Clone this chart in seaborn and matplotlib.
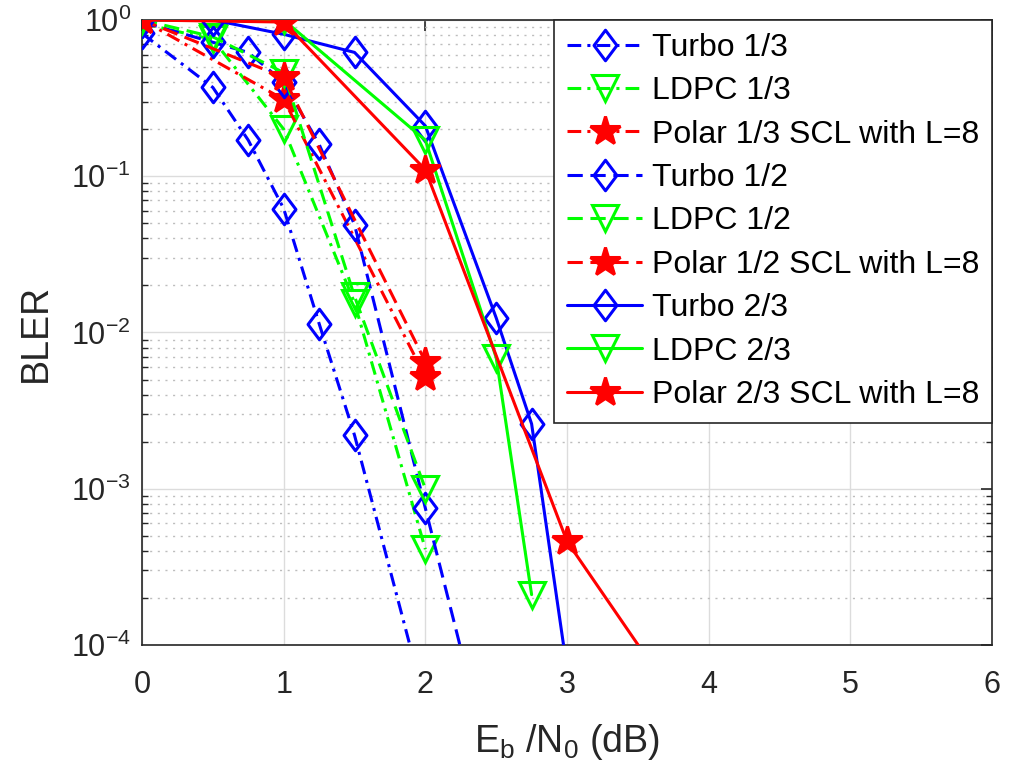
import numpy as np
import pandas as pd
import matplotlib
matplotlib.use("Agg")
import matplotlib.pyplot as plt
from matplotlib.path import Path
import seaborn as sns

# ---- data ----
x_turbo13 = [0, 0.5, 0.75, 1.0, 1.25, 1.5, 2.0]
y_turbo13 = [0.82, 0.37, 0.17, 0.062, 0.0114, 0.0022, 4.2e-5]

x_ldpc13 = [0, 0.5, 1.0, 1.5, 2.0]
y_ldpc13 = [0.95, 0.75, 0.20, 0.0155, 4.1e-4]

x_polar13 = [0, 1.0, 2.0]
y_polar13 = [1.0, 0.31, 5.2e-3]

x_turbo12 = [0, 0.5, 0.75, 1.0, 1.25, 1.5, 2.0, 2.5]
y_turbo12 = [0.97, 0.72, 0.62, 0.40, 0.16, 0.049, 7.5e-4, 1.2e-5]

x_ldpc12 = [0, 0.5, 1.0, 1.5, 2.0]
y_ldpc12 = [1.0, 0.78, 0.46, 0.017, 1.0e-3]

x_polar12 = [0, 1.0, 2.0]
y_polar12 = [1.0, 0.43, 6.5e-3]

x_turbo23 = [0, 0.5, 1.0, 1.5, 2.0, 2.5, 2.75, 3.0]
y_turbo23 = [1.0, 1.0, 0.81, 0.62, 0.21, 0.0124, 0.0026, 7e-5]

x_ldpc23 = [0, 1.0, 2.0, 2.5, 2.75]
y_ldpc23 = [1.0, 1.0, 0.17, 6.9e-3, 2.1e-4]

x_polar23 = [0, 1.0, 2.0, 3.0, 4.0]
y_polar23 = [1.0, 0.97, 0.11, 4.6e-4, 2.2e-5]

labels = ["Turbo 1/3", "LDPC 1/3", "Polar 1/3 SCL with L=8",
          "Turbo 1/2", "LDPC 1/2", "Polar 1/2 SCL with L=8",
          "Turbo 2/3", "LDPC 2/3", "Polar 2/3 SCL with L=8"]
xticks = [0, 1, 2, 3, 4, 5, 6]

series = [
    (x_turbo13, y_turbo13), (x_ldpc13, y_ldpc13), (x_polar13, y_polar13),
    (x_turbo12, y_turbo12), (x_ldpc12, y_ldpc12), (x_polar12, y_polar12),
    (x_turbo23, y_turbo23), (x_ldpc23, y_ldpc23), (x_polar23, y_polar23),
]

# ---- style ----
sns.set_style("white")
plt.rcParams['font.family'] = ['Liberation Sans', 'DejaVu Sans']
plt.rcParams['mathtext.fontset'] = 'custom'
plt.rcParams['mathtext.rm'] = 'Liberation Sans'
plt.rcParams['mathtext.it'] = 'Liberation Sans'
plt.rcParams['mathtext.default'] = 'regular'

diamond = Path([(0, 1), (0.75, 0), (0, -1), (-0.75, 0), (0, 1)],
               [Path.MOVETO, Path.LINETO, Path.LINETO, Path.LINETO, Path.CLOSEPOLY])

colors = ["#0000ff", "#00ff00", "#ff0000"]
markers = [diamond, "v", "*"]
msizes = [22, 19, 22]
faces = ["none", "none", "#ff0000"]
styles = [(0, (4.5, 2, 1, 2)), (0, (5, 2.5)), "-"]

fig = plt.figure(figsize=(10.13, 7.74), dpi=100)
ax = fig.add_axes([0.1402, 0.1667, 0.8391, 0.8075])

for i, ((xs, ys), lab) in enumerate(zip(series, labels)):
    r = i // 3
    c = i % 3
    df = pd.DataFrame({"x": xs, "y": ys})
    sns.lineplot(data=df, x="x", y="y", ax=ax, sort=False, estimator=None,
                 color=colors[c], linestyle=styles[r], linewidth=2.2,
                 marker=markers[c], markersize=msizes[c],
                 markerfacecolor=faces[c], markeredgecolor=colors[c],
                 markeredgewidth=2.2, label=lab, zorder=3)

ax.set_yscale("log")
ax.set_xlim(0, 6)
ax.set_ylim(1e-4, 1)
ax.set_xticks(xticks)
ax.set_xticklabels([str(t) for t in xticks])

ax.grid(True, which="major", color="#dcdcdc", linewidth=1.0, linestyle="-", zorder=0)
ax.grid(True, which="minor", axis="y", color="#bdbdbd", linewidth=1.0,
        linestyle=(0, (1.5, 4)), zorder=0)
ax.set_axisbelow(True)

for sp in ax.spines.values():
    sp.set_color("#262626")
    sp.set_linewidth(1.2)

ax.tick_params(axis="both", which="major", direction="in", length=8, width=1.2,
               colors="#262626", labelsize=22, top=True, right=True)
ax.tick_params(axis="x", which="major", pad=18)
ax.tick_params(axis="y", which="major", pad=8)
ax.tick_params(axis="y", which="minor", direction="in", length=4, width=1.0,
               colors="#262626", left=True, right=True)

ax.set_xlabel(r"E$_\mathregular{b}$ /N$_\mathregular{0}$ (dB)", fontsize=27,
              color="#262626", labelpad=16)
ax.set_ylabel("BLER", fontsize=27, color="#262626", labelpad=12)

leg = ax.legend(loc="upper right", bbox_to_anchor=(1.0, 1.0), borderaxespad=0.0,
                fontsize=23, frameon=True, fancybox=False, handlelength=2.35,
                labelspacing=0.42, handletextpad=0.3, borderpad=0.4)
leg.get_frame().set_edgecolor("#262626")
leg.get_frame().set_linewidth(1.2)
leg.get_frame().set_alpha(1.0)
for t in leg.get_texts():
    t.set_color("black")

fig.savefig("out.png", dpi=100)
